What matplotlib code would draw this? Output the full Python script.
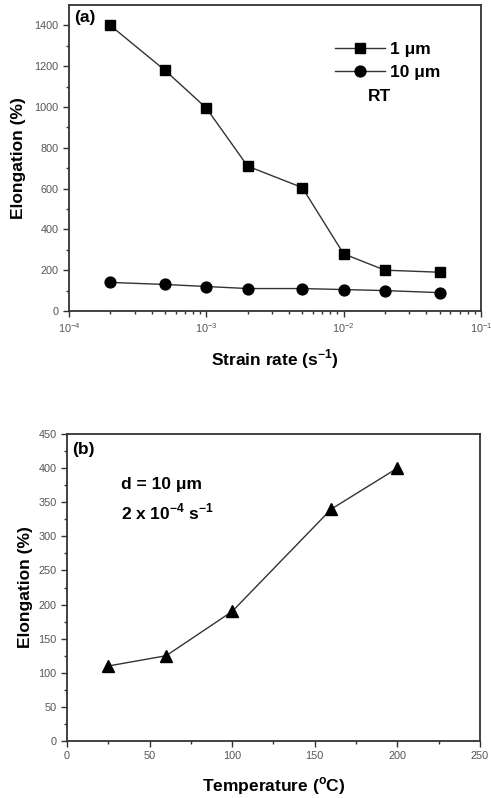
import matplotlib
matplotlib.use("Agg")
from matplotlib import pyplot as plt

plt.rcParams['font.family'] = ['Liberation Sans', 'DejaVu Sans']

# panel (a): elongation vs strain rate at RT
strain_rate = [2e-4, 5e-4, 1e-3, 2e-3, 5e-3, 1e-2, 2e-2, 5e-2]
elong_1um = [1400, 1180, 995, 710, 605, 280, 200, 190]
elong_10um = [140, 130, 120, 110, 110, 105, 100, 90]

# panel (b): elongation vs temperature, d = 10 um, 2e-4 s^-1
temperature = [25, 60, 100, 160, 200]
elong_temp = [110, 125, 190, 340, 400]

fig = plt.figure(figsize=(4.91, 7.98), dpi=100)
ax1 = fig.add_axes([0.1405, 0.6103, 0.839, 0.3834])
ax2 = fig.add_axes([0.1365, 0.0714, 0.841, 0.3847])

line_c = '#333333'
fs = 12.5
for ax in (ax1, ax2):
    for s in ax.spines.values():
        s.set_linewidth(1.3)
        s.set_color('#333333')
    ax.tick_params(axis='both', which='major', direction='out', length=4,
                   width=1, labelsize=7.8, labelcolor='#555555', color='#333333')
    ax.tick_params(axis='both', which='minor', direction='out', length=2,
                   width=1, color='#333333')

ax1.plot(strain_rate, elong_1um, color=line_c, lw=1, marker='s', ms=7.2,
         mfc='black', mec='black', label='1 μm')
ax1.plot(strain_rate, elong_10um, color=line_c, lw=1, marker='o', ms=7.8,
         mfc='black', mec='black', label='10 μm')
ax1.set_xscale('log')
ax1.set_xlim(1e-4, 1e-1)
ax1.set_ylim(0, 1500)
ax1.set_yticks(range(0, 1401, 200))
ax1.set_yticks(range(100, 1500, 200), minor=True)
ax1.set_xlabel('Strain rate (s$^{\\mathregular{-1}}$)', fontsize=fs, fontweight='bold',
               labelpad=9)
ax1.set_ylabel('Elongation (%)', fontsize=fs, fontweight='bold', labelpad=6)
ax1.text(0.012, 0.985, '(a)', transform=ax1.transAxes, fontsize=fs,
         fontweight='bold', va='top', ha='left')
leg = ax1.legend(loc='upper right', bbox_to_anchor=(0.94, 0.93), frameon=False,
                 prop={'weight': 'bold', 'size': fs}, handlelength=2.9,
                 handletextpad=0.3, labelspacing=0.45)
ax1.text(0.725, 0.70, 'RT', transform=ax1.transAxes, fontsize=fs,
         fontweight='bold', va='center', ha='left')

ax2.plot(temperature, elong_temp, color=line_c, lw=1, marker='^', ms=8.5,
         mfc='black', mec='black')
ax2.set_xlim(0, 250)
ax2.set_ylim(0, 450)
ax2.set_xticks(range(0, 251, 50))
ax2.set_xticks(range(25, 250, 50), minor=True)
ax2.set_yticks(range(0, 451, 50))
ax2.set_yticks(range(25, 450, 50), minor=True)
ax2.set_xlabel('Temperature ($^{\\mathregular{o}}$C)', fontsize=fs, fontweight='bold',
               labelpad=10)
ax2.set_ylabel('Elongation (%)', fontsize=fs, fontweight='bold', labelpad=4)
ax2.text(0.012, 0.975, '(b)', transform=ax2.transAxes, fontsize=fs,
         fontweight='bold', va='top', ha='left')
ax2.text(0.13, 0.835, 'd = 10 μm', transform=ax2.transAxes, fontsize=fs,
         fontweight='bold', va='center', ha='left')
ax2.text(0.13, 0.745, '2 x 10$^{\\mathregular{-4}}$ s$^{\\mathregular{-1}}$',
         transform=ax2.transAxes, fontsize=fs, fontweight='bold',
         va='center', ha='left')

plt.savefig('out.png', dpi=100)
